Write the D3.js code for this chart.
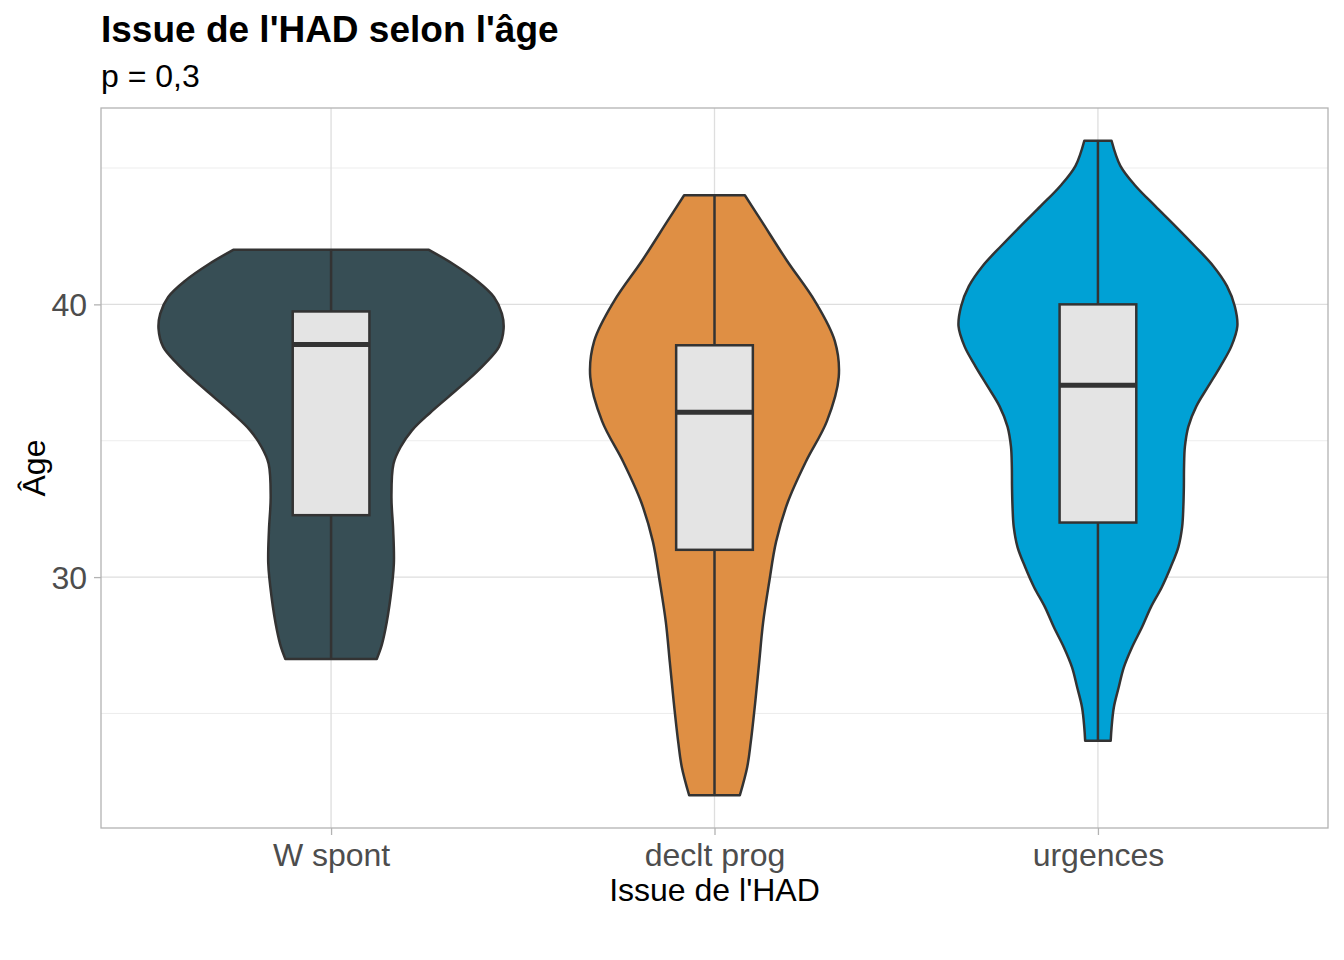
<!DOCTYPE html>
<html>
<head>
<meta charset="utf-8">
<script src="https://cdn.jsdelivr.net/npm/d3@7"></script>
<style>
  html, body { margin: 0; padding: 0; background: #ffffff; }
  svg { display: block; font-family: "Liberation Sans", Arial, Helvetica, sans-serif; }
</style>
</head>
<body>
<svg id="chart" width="1344" height="960"></svg>
<script>
// ---------------- data ----------------
const categories = ["W spont", "declt prog", "urgences"];
const fillColors = ["#374E55", "#DF8F44", "#00A1D5"];

// violin profiles: [age, relative density]
const violinWSpont = [
  [27.00,0.265],[27.45,0.291],[28.06,0.314],[29.28,0.345],[30.50,0.364],[31.72,0.360],
  [32.94,0.350],[34.16,0.362],[34.77,0.403],[35.38,0.469],[36.00,0.570],[36.60,0.679],
  [37.22,0.792],[37.83,0.892],[38.44,0.973],[39.11,1.000],[39.66,0.990],[40.27,0.944],
  [40.88,0.843],[41.49,0.705],[42.00,0.567]
];
const violinDecltProg = [
  [22.00,0.147],[23.05,0.190],[23.94,0.210],[25.41,0.236],[26.88,0.259],[28.35,0.282],
  [29.82,0.317],[31.30,0.357],[32.77,0.426],[34.24,0.530],[35.71,0.651],[37.33,0.720],
  [38.66,0.697],[40.13,0.581],[41.60,0.420],[43.07,0.271],[44.00,0.176]
];
const violinUrgences = [
  [24.00,0.074],[24.48,0.079],[25.22,0.092],[25.95,0.120],[26.69,0.150],[27.42,0.197],
  [28.16,0.255],[28.90,0.307],[29.63,0.370],[30.37,0.422],[31.10,0.466],[31.84,0.488],
  [32.58,0.495],[33.31,0.498],[34.05,0.499],[34.78,0.504],[35.52,0.524],[36.26,0.570],
  [36.99,0.639],[37.73,0.710],[38.46,0.773],[39.20,0.808],[39.93,0.793],[40.67,0.748],
  [41.41,0.668],[42.14,0.561],[42.88,0.447],[43.61,0.331],[44.35,0.217],[45.08,0.130],
  [46.00,0.079]
];
const violins = [violinWSpont, violinDecltProg, violinUrgences];

// boxplot stats: min, Q1, median, Q3, max
const boxMin    = [27, 22, 24];
const boxQ1     = [32.27, 31.0, 32.0];
const boxMedian = [38.53, 36.04, 37.03];
const boxQ3     = [39.74, 38.5, 40.0];
const boxMax    = [42, 44, 46];

const yMajorTicks = [30, 40];
const yMinorTicks = [25, 35, 45];

const titleText = "Issue de l'HAD selon l'âge";
const subtitleText = "p = 0,3";
const xTitle = "Issue de l'HAD";
const yTitle = "Âge";

// ---------------- layout ----------------
const svg = d3.select("#chart");
const panel = { left: 101, right: 1328, top: 108, bottom: 828 };

const x = d3.scalePoint().domain(categories).range([panel.left, panel.right]).padding(0.6);
const step = x.step();
const yMinData = 22, yMaxData = 46, expand = (yMaxData - yMinData) * 0.05;
const y = d3.scaleLinear().domain([yMinData - expand, yMaxData + expand]).range([panel.bottom, panel.top]);
const w = d3.scaleLinear().domain([0, 1]).range([0, 0.45 * step]);
const boxHalf = 0.1 * step;

const outline = "#333333";
const lw = 2.5;

// grid
const g = svg.append("g");
g.selectAll(".minor").data(yMinorTicks).enter().append("line")
  .attr("x1", panel.left).attr("x2", panel.right)
  .attr("y1", d => y(d)).attr("y2", d => y(d))
  .attr("stroke", "#EBEBEB").attr("stroke-width", 0.9);
g.selectAll(".majorY").data(yMajorTicks).enter().append("line")
  .attr("x1", panel.left).attr("x2", panel.right)
  .attr("y1", d => y(d)).attr("y2", d => y(d))
  .attr("stroke", "#DEDEDE").attr("stroke-width", 1.3);
g.selectAll(".majorX").data(categories).enter().append("line")
  .attr("x1", d => x(d)).attr("x2", d => x(d))
  .attr("y1", panel.top).attr("y2", panel.bottom)
  .attr("stroke", "#DEDEDE").attr("stroke-width", 1.3);

// violins
const area = d3.area().curve(d3.curveCatmullRom.alpha(0.5));
categories.forEach((c, i) => {
  const cx = x(c);
  const data = violins[i].slice().sort((a, b) => a[0] - b[0]);
  area.y(d => y(d[0])).x0(d => cx - w(d[1])).x1(d => cx + w(d[1]));
  svg.append("path").attr("d", area(data))
    .attr("fill", fillColors[i]).attr("stroke", outline)
    .attr("stroke-width", lw).attr("stroke-linejoin", "round");
});

// boxplots
categories.forEach((c, i) => {
  const cx = x(c);
  svg.append("line").attr("x1", cx).attr("x2", cx)
    .attr("y1", y(boxMax[i])).attr("y2", y(boxQ3[i]))
    .attr("stroke", outline).attr("stroke-width", lw);
  svg.append("line").attr("x1", cx).attr("x2", cx)
    .attr("y1", y(boxQ1[i])).attr("y2", y(boxMin[i]))
    .attr("stroke", outline).attr("stroke-width", lw);
  svg.append("rect").attr("x", cx - boxHalf).attr("width", 2 * boxHalf)
    .attr("y", y(boxQ3[i])).attr("height", y(boxQ1[i]) - y(boxQ3[i]))
    .attr("fill", "#E4E4E4").attr("stroke", outline).attr("stroke-width", lw);
  svg.append("line").attr("x1", cx - boxHalf).attr("x2", cx + boxHalf)
    .attr("y1", y(boxMedian[i])).attr("y2", y(boxMedian[i]))
    .attr("stroke", outline).attr("stroke-width", 5);
});

// panel border
svg.append("rect").attr("x", panel.left).attr("y", panel.top)
  .attr("width", panel.right - panel.left).attr("height", panel.bottom - panel.top)
  .attr("fill", "none").attr("stroke", "#B3B3B3").attr("stroke-width", 1.3);

// axes
const yAxis = d3.axisLeft(y).tickValues(yMajorTicks).tickSize(7).tickPadding(7).tickFormat(d3.format("d"));
const ya = svg.append("g").attr("transform", `translate(${panel.left},0)`).call(yAxis);
ya.select(".domain").remove();
ya.selectAll(".tick line").attr("stroke", "#B3B3B3").attr("stroke-width", 1.3);
ya.selectAll(".tick text").attr("fill", "#4D4D4D").attr("font-size", 32)
  .attr("font-family", "Liberation Sans, Arial, sans-serif").attr("dy", "0.35em");

const xAxis = d3.axisBottom(x).tickSize(7).tickPadding(7);
const xa = svg.append("g").attr("transform", `translate(0,${panel.bottom})`).call(xAxis);
xa.select(".domain").remove();
xa.selectAll(".tick line").attr("stroke", "#B3B3B3").attr("stroke-width", 1.3);
xa.selectAll(".tick text").attr("fill", "#4D4D4D").attr("font-size", 32)
  .attr("font-family", "Liberation Sans, Arial, sans-serif").attr("dy", "0").attr("y", 38);

// titles
svg.append("text").attr("x", panel.left).attr("y", 42)
  .attr("font-size", 37).attr("font-weight", "bold").attr("fill", "#000").text(titleText);
svg.append("text").attr("x", panel.left).attr("y", 87)
  .attr("font-size", 32).attr("fill", "#000").text(subtitleText);
svg.append("text").attr("x", (panel.left + panel.right) / 2).attr("y", 901)
  .attr("text-anchor", "middle").attr("font-size", 32).attr("fill", "#000").text(xTitle);
svg.append("text").attr("transform", `translate(45,${(panel.top + panel.bottom) / 2}) rotate(-90)`)
  .attr("text-anchor", "middle").attr("font-size", 32).attr("fill", "#000").text(yTitle);
</script>
</body>
</html>
